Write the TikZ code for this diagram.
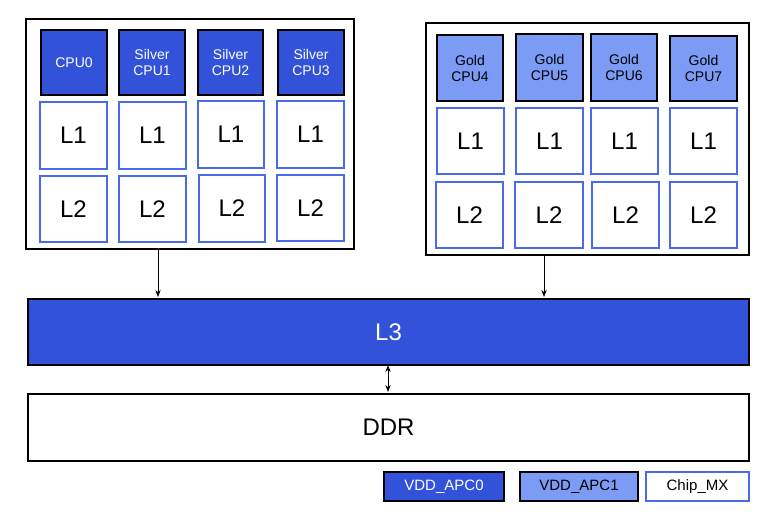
\documentclass[tikz,border=0pt]{standalone}
\usepackage{fontspec}
\setmainfont{Liberation Sans}
\usetikzlibrary{arrows.meta}
\definecolor{dblue}{HTML}{3152D9}
\definecolor{lblue}{HTML}{7B9BF5}
\definecolor{cblue}{HTML}{4A6AEE}
\tikzset{
 bx/.style={draw,line width=2pt,inner sep=0pt,anchor=north west},
 cpuA/.style={bx,fill=dblue,text=white,font=\fontsize{14}{16}\selectfont,align=center},
 cpuB/.style={bx,fill=lblue,text=black,font=\fontsize{14}{16}\selectfont,align=center},
 cache/.style={bx,draw=cblue,fill=white,font=\fontsize{24}{26}\selectfont},
 frame/.style={draw,line width=2pt,fill=white,anchor=north west,inner sep=0pt},
 conn/.style={-{Stealth[length=7pt]},line width=1pt},
}
\begin{document}
\begin{tikzpicture}[x=1pt,y=-1pt]
\useasboundingbox (0,0) rectangle (768,517);
\node[frame,minimum width=328pt,minimum height=230pt] (lf) at (25,18) {};
\node[frame,minimum width=323pt,minimum height=232pt] (rf) at (425,22) {};
% left cpus
\node[cpuA,minimum width=66pt,minimum height=65pt] (c0) at (40,29) {CPU0};
\node[cpuA,minimum width=66pt,minimum height=65pt] (c1) at (118,29) {Silver\\CPU1};
\node[cpuA,minimum width=65pt,minimum height=65pt] (c2) at (197,29) {Silver\\CPU2};
\node[cpuA,minimum width=66pt,minimum height=65pt] (c3) at (277,29) {Silver\\CPU3};
\node[cache,minimum width=67pt,minimum height=67pt] (a1) at (39,101) {L1};
\node[cache,minimum width=67pt,minimum height=67pt] (b1) at (118,101) {L1};
\node[cache,minimum width=66pt,minimum height=67pt] (d1) at (197,100) {L1};
\node[cache,minimum width=67pt,minimum height=67pt] (e1) at (276,100) {L1};
\node[cache,minimum width=67pt,minimum height=66pt] (a2) at (39,175) {L2};
\node[cache,minimum width=67pt,minimum height=66pt] (b2) at (118,175) {L2};
\node[cache,minimum width=66pt,minimum height=67pt] (d2) at (198,174) {L2};
\node[cache,minimum width=67pt,minimum height=66pt] (e2) at (276,174) {L2};
% right cpus
\node[cpuB,minimum width=66pt,minimum height=66pt] (c4) at (436,34) {Gold\\CPU4};
\node[cpuB,minimum width=67pt,minimum height=67pt] (c5) at (515,33) {Gold\\CPU5};
\node[cpuB,minimum width=66pt,minimum height=67pt] (c6) at (590,33) {Gold\\CPU6};
\node[cpuB,minimum width=67pt,minimum height=65pt] (c7) at (669,35) {Gold\\CPU7};
\node[cache,minimum width=67pt,minimum height=66pt] (f1) at (436,107) {L1};
\node[cache,minimum width=67pt,minimum height=66pt] (g1) at (515,107) {L1};
\node[cache,minimum width=67pt,minimum height=66pt] (h1) at (590,107) {L1};
\node[cache,minimum width=67pt,minimum height=66pt] (i1) at (669,107) {L1};
\node[cache,minimum width=67pt,minimum height=66pt] (f2) at (435,181) {L2};
\node[cache,minimum width=68pt,minimum height=66pt] (g2) at (514,181) {L2};
\node[cache,minimum width=67pt,minimum height=66pt] (h2) at (591,181) {L2};
\node[cache,minimum width=67pt,minimum height=66pt] (i2) at (669,181) {L2};
% L3 and DDR
\node[bx,fill=dblue,text=white,font=\fontsize{24}{26}\selectfont,minimum width=721pt,minimum height=66pt] (l3) at (27,298) {L3};
\node[bx,fill=white,font=\fontsize{24}{26}\selectfont,minimum width=721pt,minimum height=67pt] (ddr) at (27,393) {DDR};
\coordinate (la) at (158,249); \coordinate (lb) at (158,297);
\coordinate (ra) at (544,255); \coordinate (rb) at (544,297);
\coordinate (ma) at (388,365); \coordinate (mb) at (388,392);
\draw[conn] (la) -- (lb);
\draw[conn] (ra) -- (rb);
\draw[{Stealth[length=7pt]}-{Stealth[length=7pt]},line width=1pt] (ma) -- (mb);
% legend
\node[bx,fill=dblue,text=white,font=\fontsize{15}{16}\selectfont,minimum width=120pt,minimum height=29pt] (k0) at (383,471) {VDD\_APC0};
\node[bx,fill=lblue,font=\fontsize{15}{16}\selectfont,minimum width=118pt,minimum height=29pt] (k1) at (519,471) {VDD\_APC1};
\node[bx,draw=cblue,fill=white,font=\fontsize{15}{16}\selectfont,minimum width=103pt,minimum height=29pt] (k2) at (645,471) {Chip\_MX};
\end{tikzpicture}
\end{document}
